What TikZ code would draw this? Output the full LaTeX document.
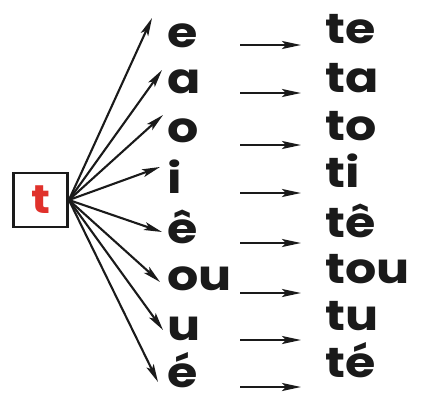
\documentclass[tikz,border=0pt]{standalone}
\usepackage{fontspec}
\setmainfont{Poppins}[FakeStretch=1.17]
\usepackage{xcolor}
\usetikzlibrary{positioning, arrows.meta, calc}
\definecolor{RedA}{HTML}{E0312B}
\definecolor{InkA}{HTML}{1A1A1A}
\tikzset{
  lt/.style={anchor=base west, inner sep=0pt, text=InkA,
             font=\fontsize{42}{42}\selectfont\bfseries},
  bx/.style={draw=InkA, line width=2.8pt, minimum size=54pt, inner sep=0pt,
             font=\fontsize{40}{40}\selectfont\bfseries, text=RedA},
  fan/.style={-{Stealth[length=18pt, width=8pt, inset=4pt]}, line width=2.1pt, draw=InkA},
  ar/.style={-{Stealth[length=19pt, width=8pt, inset=4pt]}, line width=2.2pt, draw=InkA},
}

\begin{document}
\begin{tikzpicture}[x=1pt, y=-1pt]
  \useasboundingbox (0,0) rectangle (422,405);

  \node[bx] (t) at (40.5,200) {t};

  \node[lt] (e)  at (167,47)  {e};
  \node[lt] (a)  at (167,93)  {a};
  \node[lt] (o)  at (167,142) {o};
  \node[lt] (i)  at (167,193) {i};
  \node[lt] (ec) at (167,243) {ê};
  \node[lt] (ou) at (167,290) {ou};
  \node[lt] (u)  at (167,340) {u};
  \node[lt] (ea) at (167,387) {é};

  \node[lt] (te)  at (325,43)  {te};
  \node[lt] (ta)  at (325,92)  {ta};
  \node[lt] (to)  at (325,140) {to};
  \node[lt] (ti)  at (325,187) {ti};
  \node[lt] (tec) at (325,237) {tê};
  \node[lt] (tou) at (325,283) {tou};
  \node[lt] (tu)  at (325,330) {tu};
  \node[lt] (tea) at (325,377) {té};

  \coordinate (ml) at (240,0);
  \coordinate (mr) at (301,0);

  \draw[fan] (t.east) -- ([shift={(-15,-29)}]e.base west);
  \draw[fan] (t.east) -- ([shift={(-5,-23)}]a.base west);
  \draw[fan] (t.east) -- ([shift={(-4,-27)}]o.base west);
  \draw[fan] (t.east) -- ([shift={(-7,-26)}]i.base west);
  \draw[fan] (t.east) -- ([shift={(-5,-11)}]ec.base west);
  \draw[fan] (t.east) -- ([shift={(-7,-8)}]ou.base west);
  \draw[fan] (t.east) -- ([shift={(-4,-10)}]u.base west);
  \draw[fan] (t.east) -- ([shift={(-9,-5)}]ea.base west);

  \draw[ar] ([yshift=2pt]e.base -| ml) -- ([yshift=2pt]e.base -| mr);
  \draw[ar] (a.base -| ml) -- (a.base -| mr);
  \draw[ar] ([yshift=-3pt]o.base -| ml) -- ([yshift=-3pt]o.base -| mr);
  \draw[ar] (i.base -| ml) -- (i.base -| mr);
  \draw[ar] (ec.base -| ml) -- (ec.base -| mr);
  \draw[ar] ([yshift=-3pt]ou.base -| ml) -- ([yshift=-3pt]ou.base -| mr);
  \draw[ar] (u.base -| ml) -- (u.base -| mr);
  \draw[ar] (ea.base -| ml) -- (ea.base -| mr);
\end{tikzpicture}
\end{document}
